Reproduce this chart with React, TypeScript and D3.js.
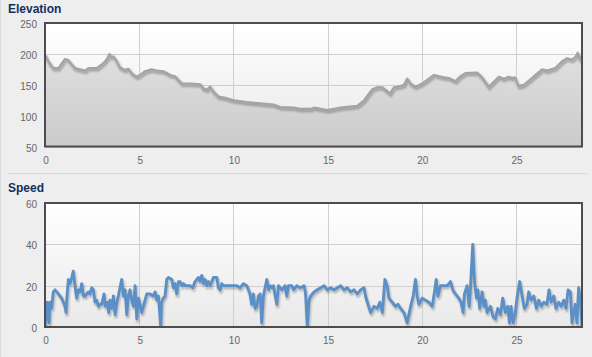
import React from "react";
import * as d3 from "d3";

const elevKm = [0, 0.18, 0.44, 0.71, 1.06, 1.24, 1.59, 2.12, 2.3, 2.74, 3.01, 3.19, 3.31, 3.42, 3.5, 3.63, 3.81, 3.98, 4.25, 4.42, 4.6, 4.87, 5.04, 5.31, 5.66, 5.93, 6.28, 6.64, 6.9, 7.08, 7.26, 7.7, 8.23, 8.41, 8.58, 8.76, 8.94, 9.2, 9.56, 10.0, 10.71, 11.42, 12.12, 12.48, 13.19, 13.54, 14.1, 14.28, 14.98, 15.69, 16.57, 16.93, 17.37, 17.63, 17.9, 18.07, 18.3, 18.52, 18.87, 19.05, 19.22, 19.4, 19.66, 20.02, 20.28, 20.64, 21.17, 21.43, 21.78, 22.05, 22.31, 22.93, 23.2, 23.55, 23.82, 24.08, 24.35, 24.61, 24.79, 24.93, 25.14, 25.41, 25.76, 26.11, 26.38, 26.64, 27.08, 27.44, 27.7, 27.97, 28.14, 28.27, 28.37, 28.5];
const elevM = [199, 188, 177, 177, 192, 190, 177, 173, 177, 177, 183, 188, 193, 200, 195, 196, 188, 178, 174, 176, 169, 163, 166, 172, 175, 173, 172, 166, 164, 158, 152, 152, 151, 144, 142, 147, 139, 131, 129, 125, 122, 120, 118, 114, 113, 111, 111, 113, 109, 113, 116, 125, 143, 146, 146, 142, 136, 146, 148, 150, 160, 152, 147, 152, 158, 166, 162, 161, 156, 164, 169, 170, 162, 147, 155, 163, 160, 163, 161, 162, 148, 150, 159, 168, 175, 173, 177, 188, 193, 191, 195, 202, 192, 197];

const speedKm = [0, 0.05, 0.12, 0.21, 0.27, 0.35, 0.44, 0.53, 0.71, 0.88, 1.06, 1.12, 1.15, 1.24, 1.33, 1.42, 1.5, 1.59, 1.68, 1.77, 1.86, 1.95, 2.04, 2.12, 2.3, 2.39, 2.48, 2.57, 2.65, 2.74, 2.83, 2.92, 3.01, 3.13, 3.2, 3.31, 3.38, 3.45, 3.54, 3.63, 3.72, 3.81, 3.89, 3.98, 4.07, 4.16, 4.25, 4.34, 4.42, 4.51, 4.6, 4.69, 4.78, 4.87, 4.96, 5.04, 5.13, 5.22, 5.4, 5.58, 5.75, 5.84, 5.93, 6.02, 6.07, 6.14, 6.19, 6.28, 6.37, 6.46, 6.55, 6.73, 6.81, 6.9, 6.99, 7.08, 7.17, 7.26, 7.35, 7.43, 7.52, 7.7, 7.84, 7.96, 8.14, 8.23, 8.32, 8.41, 8.5, 8.58, 8.67, 8.76, 8.94, 9.12, 9.2, 9.29, 9.38, 9.47, 9.65, 9.82, 10.0, 10.18, 10.35, 10.53, 10.71, 10.88, 10.97, 11.06, 11.15, 11.24, 11.33, 11.42, 11.5, 11.59, 11.68, 11.77, 11.86, 11.95, 12.04, 12.12, 12.3, 12.39, 12.57, 12.74, 12.83, 12.92, 13.1, 13.19, 13.36, 13.54, 13.75, 13.83, 13.92, 14.01, 14.1, 14.28, 14.45, 14.63, 14.81, 14.98, 15.16, 15.34, 15.51, 15.69, 15.87, 16.04, 16.22, 16.4, 16.57, 16.75, 16.93, 17.01, 17.14, 17.28, 17.46, 17.63, 17.77, 17.9, 18.04, 18.16, 18.25, 18.43, 18.6, 18.73, 18.87, 19.05, 19.22, 19.31, 19.43, 19.54, 19.66, 19.75, 19.84, 20.02, 20.19, 20.37, 20.55, 20.67, 20.76, 20.85, 20.99, 21.17, 21.34, 21.52, 21.64, 21.78, 21.96, 22.08, 22.19, 22.26, 22.4, 22.51, 22.58, 22.7, 22.79, 22.9, 22.97, 23.07, 23.2, 23.29, 23.37, 23.46, 23.64, 23.78, 23.9, 24.03, 24.17, 24.29, 24.43, 24.56, 24.65, 24.73, 24.84, 24.96, 25.05, 25.19, 25.32, 25.44, 25.58, 25.67, 25.8, 25.94, 26.08, 26.2, 26.33, 26.47, 26.64, 26.75, 26.86, 27.0, 27.12, 27.26, 27.39, 27.53, 27.65, 27.76, 27.88, 27.97, 28.06, 28.14, 28.23, 28.32, 28.41, 28.5];
const speedKmh = [0, 4, 12, 2, 12, 9, 17, 18, 16, 14, 10, 7, 13, 23, 21, 24, 27, 20, 14, 18, 17, 21, 15, 15, 17, 16, 19, 18, 12, 13, 10, 11, 11, 16, 10, 12, 7, 13, 9, 15, 6, 12, 15, 19, 23, 15, 18, 6, 15, 18, 13, 10, 20, 4, 14, 11, 7, 10, 16, 16, 15, 17, 13, 15, 9, 0, 12, 14, 15, 23, 24, 23, 19, 21, 16, 22, 22, 20, 21, 20, 20, 20, 19, 22, 24, 22, 25, 21, 23, 20, 22, 20, 24, 24, 19, 18, 21, 20, 20, 20, 20, 20, 19, 21, 20, 16, 11, 16, 9, 10, 15, 16, 2, 15, 19, 23, 18, 20, 19, 20, 11, 20, 18, 20, 15, 20, 20, 18, 20, 19, 20, 16, 0, 13, 15, 17, 18, 19, 20, 18, 19, 18, 19, 20, 18, 19, 17, 18, 16, 18, 19, 15, 11, 7, 10, 9, 12, 7, 23, 20, 14, 12, 10, 11, 9, 7, 2, 6, 11, 15, 23, 15, 11, 14, 13, 12, 10, 17, 23, 15, 20, 20, 20, 22, 18, 16, 14, 12, 7, 16, 20, 10, 19, 40, 22, 14, 18, 9, 17, 10, 13, 7, 10, 5, 4, 9, 6, 14, 7, 10, 2, 10, 2, 7, 14, 22, 15, 9, 11, 17, 13, 15, 9, 13, 10, 12, 11, 18, 12, 15, 9, 12, 10, 13, 9, 18, 17, 2, 7, 11, 2, 19, 13, 0];

const xTicks = [0, 5, 10, 15, 20, 25];
const elevTicks = [50, 100, 150, 200, 250];
const speedTicks = [0, 20, 40, 60];

const X0 = 45;
const X1 = 582;
const FONT = "'Liberation Sans', Arial, sans-serif";

type Panel = {
  title: string;
  titleY: number;
  top: number;
  bottom: number;
  domain: [number, number];
  ticks: number[];
};

function Frame({ p, id, children }: { p: Panel; id: string; children?: React.ReactNode }) {
  const x = d3.scaleLinear().domain([0, 28.5]).range([X0, X1]);
  const y = d3.scaleLinear().domain(p.domain).range([p.bottom, p.top]);
  return (
    <g>
      <text x={8} y={p.titleY} fontFamily={FONT} fontWeight="bold" fontSize={12} fill="#12305e">
        {p.title}
      </text>
      <rect x={X0} y={p.top} width={X1 - X0} height={p.bottom - p.top} fill={`url(#bg${id})`} />
      {p.ticks.map((t) => (
        <line key={"h" + t} x1={X0} x2={X1} y1={Math.round(y(t)) + 0.5} y2={Math.round(y(t)) + 0.5} stroke="#cfcfcf" />
      ))}
      {xTicks.map((t) => (
        <line key={"v" + t} y1={p.top} y2={p.bottom} x1={Math.round(x(t)) + 0.5} x2={Math.round(x(t)) + 0.5} stroke="#cfcfcf" />
      ))}
      {children}
      <rect x={X0} y={p.top} width={X1 - X0} height={p.bottom - p.top} fill="none" stroke="#4d4d4d" strokeWidth={2} />
      {p.ticks.map((t) => (
        <text key={"yl" + t} x={37} y={y(t) + 5} textAnchor="end" fontFamily={FONT} fontSize={10} fill="#666">
          {t}
        </text>
      ))}
      {xTicks.map((t) => (
        <text key={"xl" + t} x={x(t) + 1} y={p.bottom + 17} textAnchor="middle" fontFamily={FONT} fontSize={10} fill="#666">
          {t}
        </text>
      ))}
    </g>
  );
}

export default function App() {
  const elev: Panel = { title: "Elevation", titleY: 13, top: 23, bottom: 146.5, domain: [50, 250], ticks: elevTicks };
  const spd: Panel = { title: "Speed", titleY: 192, top: 203, bottom: 327, domain: [0, 60], ticks: speedTicks };

  const x = d3.scaleLinear().domain([0, 28.5]).range([X0, X1]);
  const ye = d3.scaleLinear().domain(elev.domain).range([elev.bottom, elev.top]);
  const ys = d3.scaleLinear().domain(spd.domain).range([spd.bottom, spd.top]);

  const elevData = elevKm.map((k, i) => [k, elevM[i]] as [number, number]);
  const speedData = speedKm.map((k, i) => [k, speedKmh[i]] as [number, number]);

  const eLine = d3.line<[number, number]>().x((d) => x(d[0])).y((d) => ye(d[1]))(elevData) || "";
  const eArea = d3.area<[number, number]>().x((d) => x(d[0])).y0(elev.bottom).y1((d) => ye(d[1]))(elevData) || "";
  const sLine = d3.line<[number, number]>().x((d) => x(d[0])).y((d) => ys(d[1]))(speedData) || "";

  const shadow = (path: string) => (
    <g transform="translate(1,2)">
      <path d={path} fill="none" stroke="#000" strokeOpacity={0.05} strokeWidth={6} strokeLinejoin="round" />
      <path d={path} fill="none" stroke="#000" strokeOpacity={0.08} strokeWidth={4} strokeLinejoin="round" />
      <path d={path} fill="none" stroke="#000" strokeOpacity={0.1} strokeWidth={2} strokeLinejoin="round" />
    </g>
  );

  return (
    <svg width={592} height={357} style={{ position: "absolute", left: 0, top: 0, display: "block" }}>
      <defs>
        <linearGradient id="bgE" x1="0" y1="0" x2="0" y2="1">
          <stop offset="0" stopColor="#ffffff" />
          <stop offset="1" stopColor="#e8e8e8" />
        </linearGradient>
        <linearGradient id="bgS" x1="0" y1="0" x2="0" y2="1">
          <stop offset="0" stopColor="#ffffff" />
          <stop offset="1" stopColor="#e9e9e9" />
        </linearGradient>
        <linearGradient id="areaFill" gradientUnits="userSpaceOnUse" x1="0" y1={elev.top} x2="0" y2={elev.bottom}>
          <stop offset="0" stopColor="#e6e6e6" />
          <stop offset="1" stopColor="#cbcbcb" />
        </linearGradient>
        <clipPath id="clipE">
          <rect x={X0} y={elev.top} width={X1 - X0} height={elev.bottom - elev.top} />
        </clipPath>
        <clipPath id="clipS">
          <rect x={X0} y={spd.top} width={X1 - X0} height={spd.bottom - spd.top} />
        </clipPath>
      </defs>
      <rect x={0} y={0} width={592} height={357} fill="#eeeeee" />
      <line x1={0.5} x2={0.5} y1={0} y2={357} stroke="#dadada" />
      <line x1={8} x2={587} y1={173.5} y2={173.5} stroke="#d9d9d9" />
      <Frame p={elev} id="E">
        <g clipPath="url(#clipE)">
          <path d={eArea} fill="url(#areaFill)" />
          {shadow(eLine)}
          <path d={eLine} fill="none" stroke="#a3a3a3" strokeWidth={2} strokeLinejoin="round" />
        </g>
      </Frame>
      <Frame p={spd} id="S">
        <g clipPath="url(#clipS)">
          {shadow(sLine)}
          <path d={sLine} fill="none" stroke="#5b8fc8" strokeWidth={2.8} strokeLinejoin="round" />
        </g>
      </Frame>
    </svg>
  );
}
